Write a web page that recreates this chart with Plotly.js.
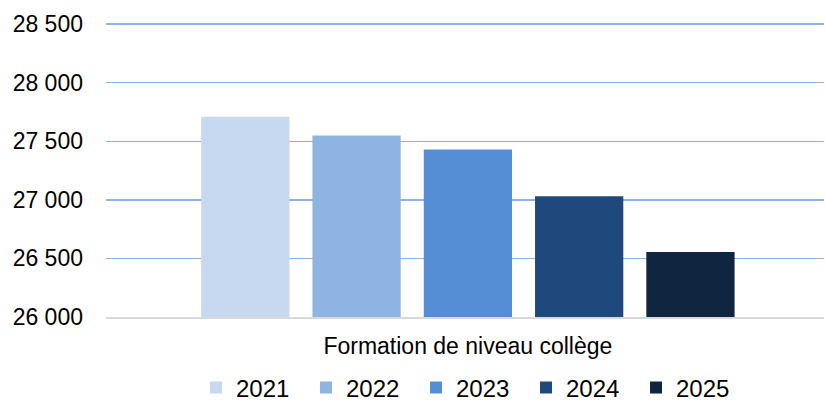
<!DOCTYPE html>
<html>
<head>
<meta charset="utf-8">
<script src="https://cdn.plot.ly/plotly-3.0.1.min.js"></script>
<style>
  html, body { margin: 0; padding: 0; background: #fff; }
  #chart { width: 825px; height: 404px; }
</style>
</head>
<body>
<div id="chart"></div>
<script>
var category = ['Formation de niveau collège'];
var years = ['2021', '2022', '2023', '2024', '2025'];
var values = [27710, 27550, 27430, 27030, 26555];
var colors = ['#C6D9F1', '#8EB4E3', '#558ED5', '#1F497D', '#10253F'];

var data = years.map(function (yr, i) {
  return {
    type: 'bar',
    name: yr,
    x: category,
    y: [values[i]],
    marker: { color: colors[i], line: { width: 0 } },
    hoverinfo: 'name+y'
  };
});

var layout = {
  width: 825,
  height: 404,
  margin: { l: 106, r: 1, t: 20, b: 87 },
  font: { family: 'Liberation Sans, Arial, sans-serif', color: '#000' },
  separators: ', ',
  barmode: 'group',
  bargap: 0.225,
  bargroupgap: 0.207,
  paper_bgcolor: '#fff',
  plot_bgcolor: '#fff',
  showlegend: true,
  legend: {
    orientation: 'h',
    x: 0.2376, xanchor: 'left',
    xref: 'container',
    y: 0.04, yanchor: 'middle',
    yref: 'container',
    font: { size: 24 },
    itemwidth: 30,
    entrywidth: 65,
    itemclick: false
  },
  xaxis: {
    type: 'category',
    range: [-0.504, 0.496],
    showgrid: false,
    showline: true,
    linecolor: '#d9d9d9',
    linewidth: 1.5,
    ticks: '',
    ticklabelstandoff: 8,
    tickfont: { size: 23 },
    fixedrange: true
  },
  yaxis: {
    range: [26000, 28535],
    tickvals: [26000, 26500, 27000, 27500, 28000, 28500],
    tickformat: ',d',
    showgrid: true,
    gridcolor: '#8EB4E3',
    gridwidth: 1.5,
    zeroline: false,
    ticks: '',
    ticklabelstandoff: 22,
    tickfont: { size: 23 },
    fixedrange: true
  }
};

Plotly.newPlot('chart', data, layout, { displayModeBar: false, staticPlot: true });
</script>
</body>
</html>
